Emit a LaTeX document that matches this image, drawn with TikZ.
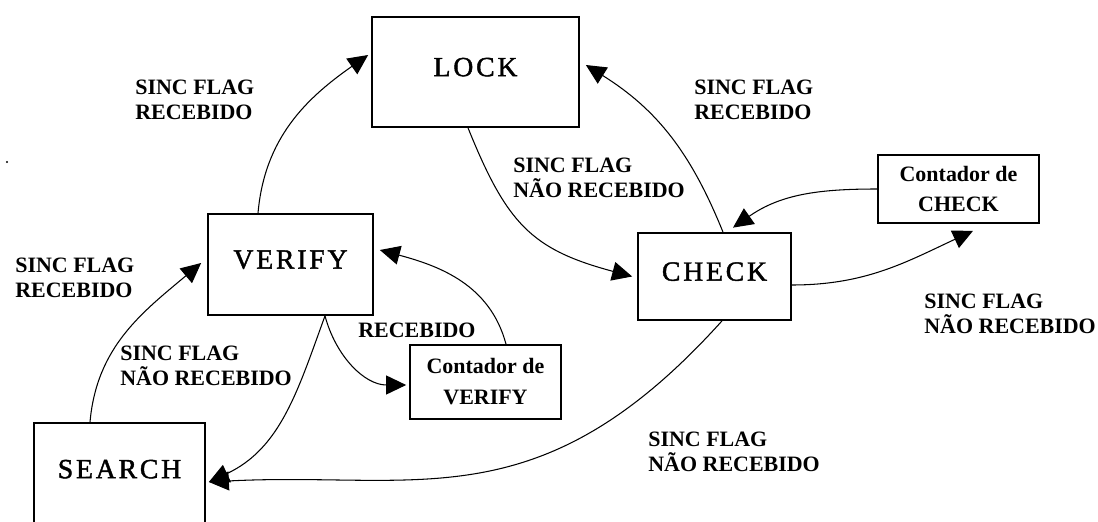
\documentclass[tikz,border=0pt]{standalone}
\usepackage{fontspec}
\setmainfont{Liberation Serif}
\newfontfamily\statefont[LetterSpace=10, FakeBold=1.5]{Liberation Serif}
\usetikzlibrary{arrows.meta}
\tikzset{
  state/.style={draw, line width=1pt, inner sep=0pt, text depth=0.2cm, font=\statefont\fontsize{15.8}{18}\selectfont},
  counter/.style={draw, line width=1pt, inner sep=0pt, align=center, font=\bfseries\fontsize{12.5}{17.6}\selectfont},
  flag/.style={anchor=west, inner sep=0pt, align=left, font=\bfseries\fontsize{12.5}{14.2}\selectfont},
  trans/.style={-{Triangle[length=0.4cm, width=0.38cm]}, line width=0.6pt},
}

\begin{document}
\begin{tikzpicture}[x=0.02cm, y=0.02cm]
  \useasboundingbox (0,0) rectangle (1098,521);

  \node[state, minimum width=4.14cm, minimum height=2.2cm] (lock) at (475.5,449) {LOCK};
  \node[state, minimum width=3.3cm, minimum height=2.02cm] (verify) at (290.5,256.5) {VERIFY};
  \node[state, minimum width=3.42cm, minimum height=2.04cm] (search) at (119.5,47) {SEARCH};
  \node[state, minimum width=3.06cm, minimum height=1.74cm] (check) at (714.5,244.5) {CHECK};
  \node[counter, minimum width=3.02cm, minimum height=1.48cm] (ctrverify) at (485.5,139) {Contador de\\VERIFY};
  \node[counter, minimum width=3.22cm, minimum height=1.36cm] (ctrcheck) at (958.5,332) {Contador de\\CHECK};

  \node[flag] (verifylock) at (135,421) {SINC FLAG\\RECEBIDO};
  \node[flag] (checklock) at (694,421) {SINC FLAG\\RECEBIDO};
  \node[flag] (lockcheck) at (513,343.5) {SINC FLAG\\NÃO RECEBIDO};
  \node[flag] (searchverify) at (15,243.5) {SINC FLAG\\RECEBIDO};
  \node[flag] (verifysearch) at (120,155.5) {SINC FLAG\\NÃO RECEBIDO};
  \node[flag] (ctrverifyback) at (358,191) {RECEBIDO};
  \node[flag] (checkctr) at (924,207.5) {SINC FLAG\\NÃO RECEBIDO};
  \node[flag] (checksearch) at (648,69.5) {SINC FLAG\\NÃO RECEBIDO};

  \fill (7,359) circle (1.2);

  \draw[trans] ([xshift=-0.65cm]verify.north) to[out=85, in=215] ([xshift=-0.06cm, yshift=0.34cm]lock.west);
  \draw[trans] ([xshift=-0.15cm]lock.south) to[out=-68, in=165, looseness=1.2] ([xshift=-0.1cm]check.west);
  \draw[trans] ([xshift=0.17cm]check.north) to[out=112, in=-32] ([xshift=0.12cm, yshift=0.14cm]lock.east);
  \draw[trans] (ctrcheck.west) to[out=180, in=35] ([xshift=0.37cm, yshift=0.09cm]check.north);
  \draw[trans] ([yshift=-0.17cm]check.east) to[out=0, in=205] ([xshift=0.29cm, yshift=-0.14cm]ctrcheck.south);
  \draw[trans] ([xshift=0.15cm]check.south) to[out=228, in=3, out looseness=1.3] ([xshift=0.06cm, yshift=-0.16cm]search.east);
  \draw[trans] ([xshift=0.69cm]verify.south) to[out=250, in=25] ([xshift=0.06cm, yshift=-0.16cm]search.east);
  \draw[trans] ([xshift=0.69cm]verify.south) to[out=-75, in=180] ([xshift=-0.06cm, yshift=-0.06cm]ctrverify.west);
  \draw[trans] ([xshift=0.41cm]ctrverify.north) to[out=105, in=-15] ([xshift=0.12cm, yshift=0.29cm]verify.east);
  \draw[trans] ([xshift=-0.59cm]search.north) to[out=85, in=220] ([xshift=-0.12cm, yshift=0.03cm]verify.west);
\end{tikzpicture}
\end{document}
